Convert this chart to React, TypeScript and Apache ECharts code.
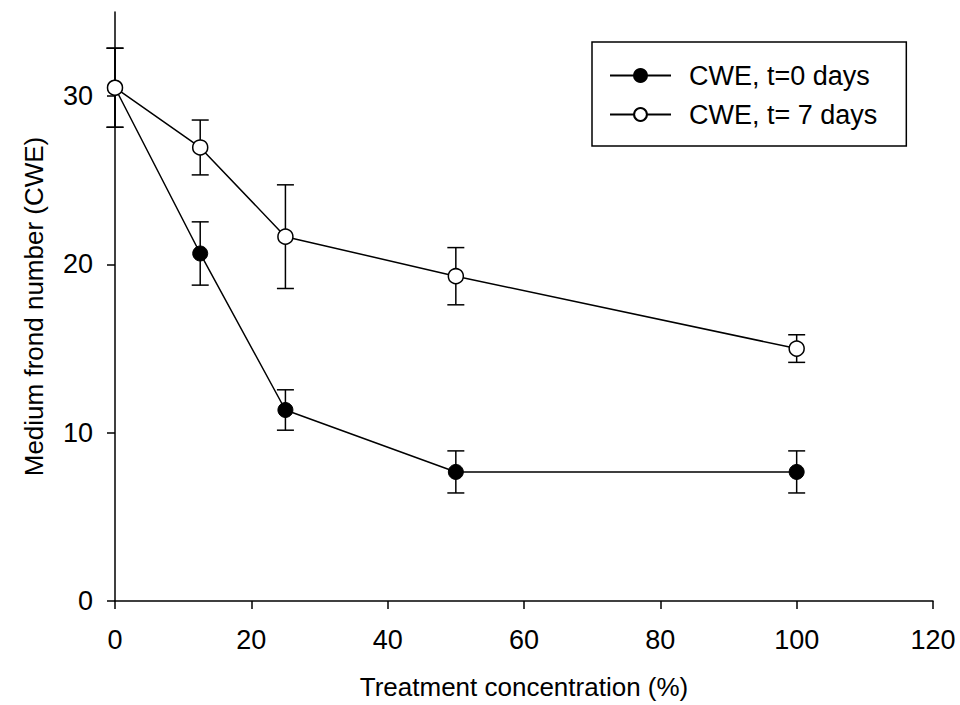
import React, { useEffect, useRef } from "react";
import * as echarts from "echarts";

const concentrations = [0, 12.5, 25, 50, 100];
const day0Mean = [30.5, 20.65, 11.35, 7.67, 7.67];
const day0Err = [2.35, 1.88, 1.2, 1.25, 1.25];
const day7Mean = [30.5, 26.95, 21.65, 19.3, 15.0];
const day7Err = [2.35, 1.63, 3.08, 1.7, 0.82];
const yTicks = [0, 10, 20, 30];
const seriesNames = ["CWE, t=0 days", "CWE, t= 7 days"];
const xTitle = "Treatment concentration (%)";
const yTitle = "Medium frond number (CWE)";

const FONT = "'Liberation Sans', Arial, sans-serif";

function errData(means: number[], errs: number[]) {
  return concentrations.map((x, i) => [x, means[i] - errs[i], means[i] + errs[i]]);
}

function errSeries(means: number[], errs: number[]) {
  return {
    type: "custom",
    z: 1,
    silent: true,
    encode: { x: 0, y: [1, 2] },
    data: errData(means, errs),
    renderItem: (params: any, api: any) => {
      const x = api.value(0);
      const lo = api.coord([x, api.value(1)]);
      const hi = api.coord([x, api.value(2)]);
      const w = 8.5;
      const style = { stroke: "#000", lineWidth: 1.5 };
      return {
        type: "group",
        children: [
          { type: "line", shape: { x1: lo[0], y1: lo[1], x2: hi[0], y2: hi[1] }, style },
          { type: "line", shape: { x1: hi[0] - w, y1: hi[1], x2: hi[0] + w, y2: hi[1] }, style },
          { type: "line", shape: { x1: lo[0] - w, y1: lo[1], x2: lo[0] + w, y2: lo[1] }, style },
        ],
      };
    },
  };
}

export default function App() {
  const ref = useRef<HTMLDivElement>(null);
  useEffect(() => {
    if (!ref.current) return;
    const chart = echarts.init(ref.current, null, { renderer: "svg" });
    const axisCommon = {
      axisLine: { show: true, lineStyle: { color: "#000", width: 1.5 } },
      axisTick: { show: true, inside: false, length: 8, lineStyle: { color: "#000", width: 1.5 } },
      splitLine: { show: false },
      nameLocation: "middle",
      nameTextStyle: { fontFamily: FONT, fontSize: 26, color: "#000" },
    };
    chart.setOption({
      animation: false,
      backgroundColor: "#fff",
      textStyle: { fontFamily: FONT },
      grid: { left: 115, right: 27, top: 12, bottom: 103, containLabel: false },
      xAxis: {
        type: "value",
        min: 0,
        max: 120,
        interval: 20,
        name: xTitle,
        nameGap: 73,
        ...axisCommon,
        axisLabel: { fontFamily: FONT, fontSize: 27, color: "#000", margin: 25 },
      },
      yAxis: {
        type: "value",
        min: 0,
        max: 35,
        interval: 10,
        name: yTitle,
        nameGap: 68,
        ...axisCommon,
        axisTick: { ...axisCommon.axisTick, customValues: yTicks },
        axisLabel: { fontFamily: FONT, fontSize: 27, color: "#000", margin: 22, customValues: yTicks },
      },
      legend: {
        left: 592,
        top: 42,
        orient: "vertical",
        data: seriesNames,
        itemWidth: 61,
        itemHeight: 16,
        itemGap: 12,
        padding: [20, 29, 18, 17],
        borderColor: "#000",
        borderWidth: 1.5,
        backgroundColor: "#fff",
        textStyle: { fontFamily: FONT, fontSize: 27, color: "#000", lineHeight: 27, padding: [0, 0, 0, 13] },
      },
      series: [
        errSeries(day0Mean, day0Err),
        errSeries(day7Mean, day7Err),
        {
          name: seriesNames[0],
          type: "line",
          z: 3,
          data: concentrations.map((x, i) => [x, day0Mean[i]]),
          symbol: "circle",
          symbolSize: 15,
          lineStyle: { color: "#000", width: 1.5 },
          itemStyle: { color: "#000", borderColor: "#000", borderWidth: 1 },
        },
        {
          name: seriesNames[1],
          type: "line",
          z: 4,
          data: concentrations.map((x, i) => [x, day7Mean[i]]),
          symbol: "circle",
          symbolSize: 15,
          lineStyle: { color: "#000", width: 1.5 },
          itemStyle: { color: "#fff", borderColor: "#000", borderWidth: 1.5 },
        },
      ],
    });
    return () => chart.dispose();
  }, []);
  return (
    <div
      ref={ref}
      style={{ position: "absolute", left: 0, top: 0, width: 960, height: 705 }}
    />
  );
}
